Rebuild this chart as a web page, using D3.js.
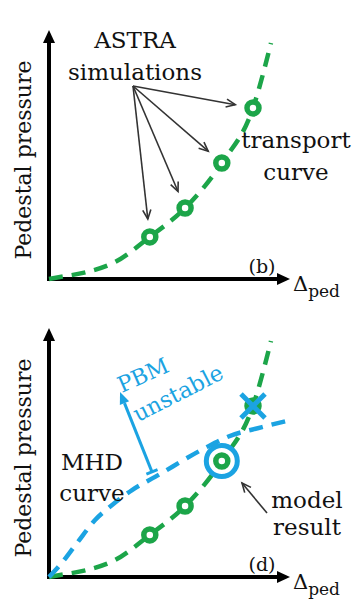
<!DOCTYPE html>
<html>
<head>
<meta charset="utf-8">
<script src="https://cdn.jsdelivr.net/npm/d3@7"></script>
<style>
  body { margin: 0; background: #fff; }
  text { font-family: 'DejaVu Serif', serif; fill: #111; }
</style>
</head>
<body>
<script>
// transport curve (shared by both panels), arbitrary units 0..100
var transportX = [0, 4.6, 15.8, 27.5, 42, 56.7, 72, 85, 92.5];
var transportY = [0, 0.8, 2.8, 6.8, 16.9, 28.5, 46.6, 68.7, 94.8];

// ASTRA simulation points on the transport curve
var simX = [42, 56.7, 72, 85];
var simY = [16.9, 28.5, 46.6, 68.7];

// MHD stability curve (bottom panel)
var mhdX = [0, 4.6, 11.7, 19.2, 26.3, 34.6, 44.2, 65, 74.2, 88.8, 99.2];
var mhdY = [0, 4.8, 13.7, 22.9, 28.9, 34.9, 40.2, 51.8, 56.2, 60.2, 62.7];

var modelIdx = 2;      // index in sim points of the model result
var unstableIdx = 3;   // the crossed-out point

var yLabel = 'Pedestal pressure';
var panelTags = ['(b)', '(d)'];

var green = '#1ca549', blue = '#1ba3e2', grey = '#333';

var W = 352, H = 602;
var svg = d3.select('body').append('svg')
    .attr('width', W).attr('height', H);
svg.append('rect').attr('width', W).attr('height', H).attr('fill', '#fff');

var x = d3.scaleLinear().domain([0, 100]).range([49, 289]);
var y = d3.scaleLinear().domain([0, 100]).range([279, 30]);

var line = d3.line()
    .x(function(d) { return x(d[0]); })
    .y(function(d) { return y(d[1]); })
    .curve(d3.curveMonotoneX);

var transport = d3.zip(transportX, transportY);
var sims = d3.zip(simX, simY);
var mhd = d3.zip(mhdX, mhdY);

// open "V" arrow from p0 to p1
function vArrow(g, p0, p1, color, w) {
    var a = Math.atan2(p1[1] - p0[1], p1[0] - p0[0]);
    var L = 10, s = 0.42;
    g.append('line')
        .attr('x1', p0[0]).attr('y1', p0[1])
        .attr('x2', p1[0]).attr('y2', p1[1])
        .attr('stroke', color).attr('stroke-width', w);
    g.append('path')
        .attr('d', 'M' + (p1[0] - L * Math.cos(a - s)) + ',' + (p1[1] - L * Math.sin(a - s)) +
            'L' + p1[0] + ',' + p1[1] +
            'L' + (p1[0] - L * Math.cos(a + s)) + ',' + (p1[1] - L * Math.sin(a + s)))
        .attr('fill', 'none').attr('stroke', color).attr('stroke-width', w)
        .attr('stroke-linejoin', 'miter');
}

function drawAxes(g) {
    var x0 = x(0), y0 = y(0), xe = x(100), ye = y(100);
    g.append('line').attr('x1', x0 - 2).attr('y1', y0).attr('x2', xe - 8).attr('y2', y0)
        .attr('stroke', '#000').attr('stroke-width', 4);
    g.append('line').attr('x1', x0).attr('y1', y0 + 2).attr('x2', x0).attr('y2', ye + 8)
        .attr('stroke', '#000').attr('stroke-width', 4);
    g.append('path').attr('d', 'M' + (xe + 1) + ',' + y0 + 'l-13,-6v12z').attr('fill', '#000');
    g.append('path').attr('d', 'M' + x0 + ',' + ye + 'l-6,13h12z').attr('fill', '#000');

    g.append('text')
        .attr('transform', 'translate(31,160) rotate(-90)')
        .attr('text-anchor', 'middle')
        .attr('font-size', 22)
        .text(yLabel);

    var t = g.append('text').attr('x', 293).attr('y', y0 + 12).attr('font-size', 21);
    t.append('tspan').text('Δ');
    t.append('tspan').attr('dy', 6).attr('font-size', 17).text('ped');
}

function dashed(g, pts, color) {
    g.append('path')
        .attr('d', line(pts))
        .attr('fill', 'none')
        .attr('stroke', color)
        .attr('stroke-width', 4.5)
        .attr('stroke-dasharray', '14,9');
}

function markers(g, pts, filledIdx) {
    g.selectAll('circle.sim').data(pts).enter().append('circle')
        .attr('class', 'sim')
        .attr('cx', function(d) { return x(d[0]); })
        .attr('cy', function(d) { return y(d[1]); })
        .attr('r', 6)
        .attr('fill', function(d, i) { return i === filledIdx ? green : '#fff'; })
        .attr('stroke', green)
        .attr('stroke-width', 5.5);
}

function label(g, lines, cx, base, gap, color, size) {
    lines.forEach(function(s, i) {
        g.append('text').attr('x', cx).attr('y', base + i * gap)
            .attr('text-anchor', 'middle')
            .attr('font-size', size || 23)
            .style('fill', color || '#111')
            .text(s);
    });
}

/* ---------- panel (b) ---------- */
var gb = svg.append('g');
drawAxes(gb);
dashed(gb, transport, green);

var origin = [133, 86];
sims.forEach(function(d) {
    var px = x(d[0]), py = y(d[1]);
    var dx = px - origin[0], dy = py - origin[1], len = Math.sqrt(dx * dx + dy * dy);
    var k = (len - 18) / len;
    vArrow(gb, origin, [origin[0] + dx * k, origin[1] + dy * k], grey, 1.6);
});
markers(gb, sims, -1);

label(gb, ['ASTRA', 'simulations'], 135, 48, 32);
label(gb, ['transport', 'curve'], 296, 148, 32);
label(gb, [panelTags[0]], 262, 273, 0, '#111', 19);

/* ---------- panel (d) ---------- */
var gd = svg.append('g').attr('transform', 'translate(0,298)');
drawAxes(gd);
dashed(gd, transport, green);
dashed(gd, mhd, blue);

var mr = sims[modelIdx];
gd.append('circle')
    .attr('cx', x(mr[0])).attr('cy', y(mr[1])).attr('r', 15.5)
    .attr('fill', '#fff').attr('stroke', blue).attr('stroke-width', 5);

markers(gd, sims.slice(0, 3).concat([sims[unstableIdx]]), 3);

var ux = x(sims[unstableIdx][0]), uy = y(sims[unstableIdx][1]);
[[-1, -1], [1, -1]].forEach(function(s) {
    gd.append('line')
        .attr('x1', ux + s[0] * 12).attr('y1', uy + s[1] * 12)
        .attr('x2', ux - s[0] * 12).attr('y2', uy - s[1] * 12)
        .attr('stroke', blue).attr('stroke-width', 5);
});

// PBM unstable arrow, perpendicular-ish to the MHD curve
var pEnd = [x(42.9), y(42.2)], pTip = [x(29.6), y(74.3)];
(function() {
    var dx = pTip[0] - pEnd[0], dy = pTip[1] - pEnd[1];
    var len = Math.sqrt(dx * dx + dy * dy), ux2 = dx / len, uy2 = dy / len;
    var bx = pTip[0] - ux2 * 12, by = pTip[1] - uy2 * 12;
    gd.append('line').attr('x1', pEnd[0]).attr('y1', pEnd[1]).attr('x2', bx).attr('y2', by)
        .attr('stroke', blue).attr('stroke-width', 3);
    gd.append('line')
        .attr('x1', pEnd[0] - uy2 * 6).attr('y1', pEnd[1] + ux2 * 6)
        .attr('x2', pEnd[0] + uy2 * 6).attr('y2', pEnd[1] - ux2 * 6)
        .attr('stroke', blue).attr('stroke-width', 3);
    gd.append('path')
        .attr('d', 'M' + pTip[0] + ',' + pTip[1] +
            'L' + (bx - uy2 * 5) + ',' + (by + ux2 * 5) +
            'L' + (bx + uy2 * 5) + ',' + (by - ux2 * 5) + 'Z')
        .attr('fill', blue);
})();

gd.append('text').attr('transform', 'translate(143,77) rotate(-24)')
    .attr('text-anchor', 'middle').attr('dy', '0.35em').attr('font-size', 22)
    .style('fill', blue).text('PBM');
gd.append('text').attr('transform', 'translate(178,95) rotate(-27)')
    .attr('text-anchor', 'middle').attr('dy', '0.35em').attr('font-size', 22.5)
    .style('fill', blue).text('unstable');

label(gd, ['MHD', 'curve'], 92, 172, 31);
label(gd, ['model', 'result'], 307, 210, 27);
label(gd, [panelTags[1]], 262, 273, 0, '#111', 19);

vArrow(gd, [267, 215], [242, 185], grey, 1.6);
</script>
</body>
</html>
